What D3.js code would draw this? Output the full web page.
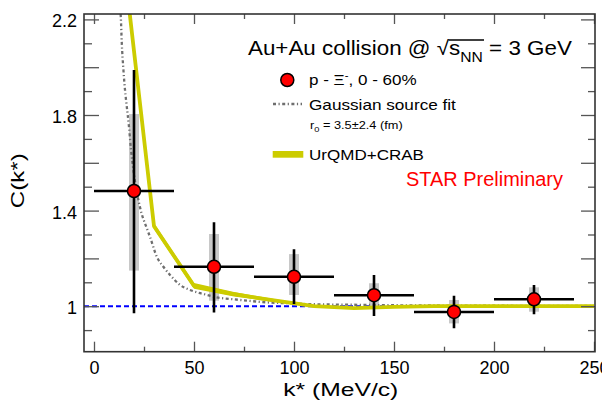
<!DOCTYPE html>
<html>
<head>
<meta charset="utf-8">
<script src="https://cdn.jsdelivr.net/npm/d3@7"></script>
<style>
  html, body { margin: 0; padding: 0; background: #fff; }
  svg { display: block; font-family: "Liberation Sans", Arial, sans-serif; }
</style>
</head>
<body>
<svg id="chart" width="602" height="405"></svg>
<script>
// ---------------- DATA ----------------
const kCenters   = [20, 60, 100, 140, 180, 220];
const kHalfWidth = [20, 20, 20, 20, 20, 20];
const cValues    = [1.482, 1.165, 1.123, 1.046, 0.976, 1.029];
const statLow    = [0.970, 0.974, 1.009, 0.959, 0.908, 0.966];
const statHigh   = [1.988, 1.351, 1.238, 1.131, 1.044, 1.089];
const sysLow     = [1.149, 1.023, 1.047, 0.995, 0.928, 0.977];
const sysHigh    = [1.804, 1.302, 1.218, 1.096, 1.026, 1.079];

// Gaussian source fit
const gaussK = [12.8, 13.4, 13.9, 14.7, 15.5, 16.2, 17.5, 18.5, 19.7, 23.0, 26.4, 28.0, 31.4, 34.7, 38.0, 43.0, 48.0, 54.7, 61.4, 69.7, 78.0, 86.4, 98.0, 106.0, 130.0, 150.0, 200.0, 250.0];
const gaussC = [2.26, 2.21, 2.10, 1.99, 1.905, 1.85, 1.75, 1.655, 1.57, 1.414, 1.326, 1.29, 1.207, 1.165, 1.131, 1.089, 1.068, 1.051, 1.037, 1.029, 1.022, 1.016, 1.012, 1.009, 1.006, 1.004, 1.002, 1.001];

// UrQMD+CRAB model
const urqmdK   = [10, 30, 50, 70, 90, 110, 130, 150, 170, 190, 210, 230, 250];
const urqmdC   = [2.80, 1.335, 1.085, 1.05, 1.024, 1.0, 0.992, 0.997, 1.0, 1.0, 1.0, 1.0, 1.0];
const urqmdErr = [0.0, 0.012, 0.012, 0.009, 0.006, 0.003, 0.003, 0.002, 0.002, 0.002, 0.002, 0.002, 0.002];

// Axes
const xTickLabels = [0, 50, 100, 150, 200, 250];
const xMinorTicks = [25, 75, 125, 175, 225];
const yTickLabels = [1, 1.4, 1.8, 2.2];
const yMajorTicks = [1.0, 1.2, 1.4, 1.6, 1.8, 2.0, 2.2];
const yMinorTicks = [0.9, 1.1, 1.3, 1.5, 1.7, 1.9, 2.1];
const xDomain = [-5, 250.5];
const yDomain = [0.8096, 2.2226];
const baseline = 1;

// ---------------- CHART ----------------
const svg = d3.select("#chart");
svg.append("rect").attr("width", 602).attr("height", 405).attr("fill", "#fff");

const L = 84, R = 595, T = 14, B = 351.7;
const x = d3.scaleLinear().domain(xDomain).range([L, R]);
const y = d3.scaleLinear().domain(yDomain).range([B, T]);

svg.append("clipPath").attr("id", "plotclip")
  .append("rect").attr("x", L).attr("y", T).attr("width", R - L).attr("height", B - T);

const plot = svg.append("g").attr("clip-path", "url(#plotclip)");

// baseline dashed line
plot.append("line")
  .attr("x1", x(xDomain[0])).attr("x2", x(xDomain[1]))
  .attr("y1", y(baseline)).attr("y2", y(baseline))
  .attr("stroke", "#0000ff").attr("stroke-width", 2)
  .attr("stroke-dasharray", "5,3");

// systematic boxes
const sysW = 10;
plot.selectAll("rect.sys").data(kCenters).join("rect").attr("class", "sys")
  .attr("x", (d) => x(d) - sysW / 2)
  .attr("width", sysW)
  .attr("y", (d, i) => y(sysHigh[i]))
  .attr("height", (d, i) => y(sysLow[i]) - y(sysHigh[i]))
  .attr("fill", "#c8c8c8");

// Gaussian source fit
const gaussData = gaussK.map((k, i) => [k, gaussC[i]]);
const lineGen = d3.line().x(d => x(d[0])).y(d => y(d[1]));
const gaussStyle = sel => sel.attr("fill", "none").attr("stroke", "#6e6e6e").attr("stroke-width", 2.3)
  .attr("stroke-dasharray", "3,2.5,1.2,2.5");
plot.append("path")
  .attr("d", lineGen.curve(d3.curveMonotoneX)(gaussData))
  .call(gaussStyle);

// UrQMD band
const uData = urqmdK.map((k, i) => ({ k, c: urqmdC[i], e: urqmdErr[i] }));
const uColor = "#cccc00";
plot.append("path")
  .attr("d", d3.area().x(d => x(d.k)).y0(d => y(d.c - d.e)).y1(d => y(d.c + d.e))(uData))
  .attr("fill", uColor);
plot.append("path")
  .attr("d", d3.line().x(d => x(d.k)).y(d => y(d.c))(uData))
  .attr("fill", "none").attr("stroke", uColor).attr("stroke-width", 3.8)
  .attr("stroke-linejoin", "round");

// stat error bars
plot.selectAll("line.xerr").data(kCenters).join("line").attr("class", "xerr")
  .attr("x1", (d, i) => x(d - kHalfWidth[i])).attr("x2", (d, i) => x(d + kHalfWidth[i]))
  .attr("y1", (d, i) => y(cValues[i])).attr("y2", (d, i) => y(cValues[i]))
  .attr("stroke", "#000").attr("stroke-width", 2.6);
plot.selectAll("line.yerr").data(kCenters).join("line").attr("class", "yerr")
  .attr("x1", d => x(d)).attr("x2", d => x(d))
  .attr("y1", (d, i) => y(statLow[i])).attr("y2", (d, i) => y(statHigh[i]))
  .attr("stroke", "#000").attr("stroke-width", 2.6);

// markers
plot.selectAll("circle.pt").data(kCenters).join("circle").attr("class", "pt")
  .attr("cx", d => x(d)).attr("cy", (d, i) => y(cValues[i]))
  .attr("r", 6.5).attr("fill", "#ff0000").attr("stroke", "#000").attr("stroke-width", 1.5);

// ---------------- AXES ----------------
const tickColor = "#555";
function styleAxis(g) {
  g.select(".domain").remove();
  g.selectAll(".tick line").attr("stroke", tickColor).attr("stroke-width", 1.3);
  g.selectAll("text").attr("font-family", "Liberation Sans, Arial, sans-serif").attr("font-size", 18).attr("fill", "#000");
}
// bottom
svg.append("g").attr("transform", `translate(0,${B})`)
  .call(d3.axisBottom(x).tickValues(xTickLabels).tickSizeInner(-10).tickSizeOuter(0).tickPadding(9.5).tickFormat(d3.format("d")))
  .call(styleAxis);
svg.append("g").attr("transform", `translate(0,${B})`)
  .call(d3.axisBottom(x).tickValues(xMinorTicks).tickSizeInner(-5).tickSizeOuter(0).tickFormat(""))
  .call(styleAxis);
// top
svg.append("g").attr("transform", `translate(0,${T})`)
  .call(d3.axisTop(x).tickValues(xTickLabels).tickSizeInner(-10).tickSizeOuter(0).tickFormat(""))
  .call(styleAxis);
svg.append("g").attr("transform", `translate(0,${T})`)
  .call(d3.axisTop(x).tickValues(xMinorTicks).tickSizeInner(-5).tickSizeOuter(0).tickFormat(""))
  .call(styleAxis);
// left
svg.append("g").attr("transform", `translate(${L},0)`)
  .call(d3.axisLeft(y).tickValues(yMajorTicks).tickSizeInner(-15).tickSizeOuter(0).tickFormat(""))
  .call(styleAxis);
svg.append("g").attr("transform", `translate(${L},0)`)
  .call(d3.axisLeft(y).tickValues(yMinorTicks).tickSizeInner(-8).tickSizeOuter(0).tickFormat(""))
  .call(styleAxis);
const yl = svg.append("g").attr("transform", `translate(${L},0)`)
  .call(d3.axisLeft(y).tickValues(yTickLabels).tickSizeInner(0).tickSizeOuter(0).tickPadding(7).tickFormat(d => String(d)))
  .call(styleAxis);
yl.selectAll("text").attr("dy", "0.42em");
// right
svg.append("g").attr("transform", `translate(${R},0)`)
  .call(d3.axisRight(y).tickValues(yMajorTicks).tickSizeInner(-14).tickSizeOuter(0).tickFormat(""))
  .call(styleAxis);
svg.append("g").attr("transform", `translate(${R},0)`)
  .call(d3.axisRight(y).tickValues(yMinorTicks).tickSizeInner(-7).tickSizeOuter(0).tickFormat(""))
  .call(styleAxis);

// frame
svg.append("rect").attr("x", L).attr("y", T).attr("width", R - L).attr("height", B - T)
  .attr("fill", "none").attr("stroke", "#333").attr("stroke-width", 1.6);

// ---------------- TEXT ----------------
function fitText(g, targetW) {
  const t = g.select("text").node();
  const w = t.getComputedTextLength();
  return targetW / w;
}
function placeText(tx, ty, size, targetW, build, fill, rotate) {
  const g = svg.append("g");
  const t = g.append("text").attr("x", 0).attr("y", 0).attr("font-size", size).attr("fill", fill || "#000");
  build(t);
  const s = fitText(g, targetW);
  g.attr("transform", `translate(${tx},${ty})` + (rotate ? ` rotate(${rotate})` : "") + ` scale(${s},1)`);
  return { g, t };
}

// axis titles
placeText(283.3, 396, 18.6, 115, t => t.text("k* (MeV/c)"));
placeText(24, 208.3, 18.6, 55, t => t.text("C(k*)"), "#000", -90);

// header
const hdr = placeText(248, 55, 20, 324, t => {
  t.append("tspan").text("Au+Au collision @ ");
  t.append("tspan").text("\u221A");
  t.append("tspan").text("s");
  t.append("tspan").attr("font-size", 14).attr("dy", 7).text("NN");
  t.append("tspan").attr("dy", -7).text(" = 3 GeV");
});
{
  const node = hdr.t.node();
  const xa = node.getEndPositionOfChar(18).x;
  const xb = node.getEndPositionOfChar(21).x;
  hdr.g.append("line").attr("x1", xa - 0.5).attr("x2", xb + 1).attr("y1", -15).attr("y2", -15)
    .attr("stroke", "#000").attr("stroke-width", 1.3);
}

// legend entries
svg.append("circle").attr("cx", 287.3).attr("cy", 80).attr("r", 6.5)
  .attr("fill", "#ff0000").attr("stroke", "#000").attr("stroke-width", 1.5);
placeText(309, 84.5, 15, 107.7, t => {
  t.append("tspan").text("p - \u039E");
  t.append("tspan").attr("font-size", 10).attr("dy", -6).text("-");
  t.append("tspan").attr("dy", 6).text(", 0 - 60%");
});

svg.append("line").attr("x1", 273).attr("x2", 302).attr("y1", 104).attr("y2", 104)
  .call(gaussStyle);
placeText(309, 109.5, 15, 147, t => t.text("Gaussian source fit"));
placeText(310, 128.5, 11, 92.7, t => {
  t.append("tspan").text("r");
  t.append("tspan").attr("font-size", 8).attr("dy", 3).text("0");
  t.append("tspan").attr("dy", -3).text(" = 3.5\u00B12.4 (fm)");
});

svg.append("rect").attr("x", 272.7).attr("y", 151).attr("width", 30.6).attr("height", 6.7).attr("fill", uColor);
placeText(309, 159.5, 15, 115, t => t.text("UrQMD+CRAB"));

placeText(406, 185.7, 19.5, 157, t => t.text("STAR Preliminary"), "#ff0000");
</script>
</body>
</html>
